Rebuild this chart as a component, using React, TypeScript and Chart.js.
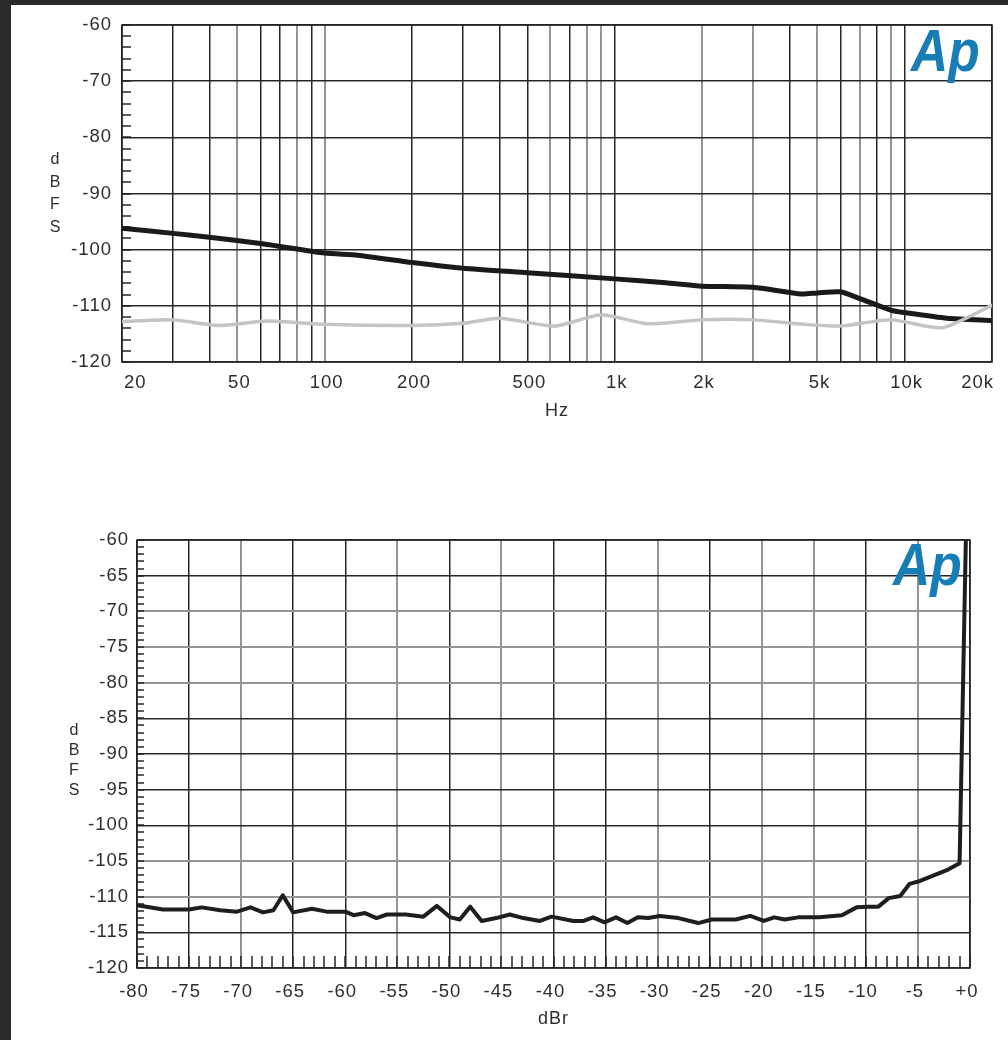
import React, { useEffect, useRef } from 'react';
import { Chart, registerables } from 'chart.js';

Chart.register(...registerables);

// ---------- Top chart: noise level vs frequency ----------
const freqGridHz = [20, 30, 40, 50, 60, 70, 80, 90, 100, 200, 300, 400, 500, 600, 700, 800, 900, 1000, 2000, 3000, 4000, 5000, 6000, 7000, 8000, 9000, 10000, 20000];
const freqLabelHz = [20, 50, 100, 200, 500, 1000, 2000, 5000, 10000, 20000];
const freqLabelText = ['20', '50', '100', '200', '500', '1k', '2k', '5k', '10k', '20k'];
const levelTicksTop = [-60, -70, -80, -90, -100, -110, -120];

const blackFreq = [20, 30, 40, 60, 100, 130, 200, 300, 500, 1000, 1500, 2000, 3000, 4400, 5000, 6000, 7000, 9000, 10000, 14000, 20000];
const blackLevel = [-96.2, -97.1, -97.8, -98.9, -100.6, -101.0, -102.3, -103.3, -104.1, -105.2, -105.9, -106.5, -106.7, -107.9, -107.7, -107.5, -108.7, -110.8, -111.2, -112.2, -112.6];

const greyFreq = [20, 30, 43, 63, 100, 200, 300, 400, 620, 900, 1300, 2000, 3000, 4500, 6000, 9000, 13500, 20000];
const greyLevel = [-112.8, -112.5, -113.5, -112.7, -113.3, -113.5, -113.1, -112.2, -113.6, -111.6, -113.2, -112.5, -112.5, -113.3, -113.6, -112.5, -113.9, -109.9];

// ---------- Bottom chart: output level vs input level ----------
const dbrTicks = [-80, -75, -70, -65, -60, -55, -50, -45, -40, -35, -30, -25, -20, -15, -10, -5, 0];
const dbrTickText = ['-80', '-75', '-70', '-65', '-60', '-55', '-50', '-45', '-40', '-35', '-30', '-25', '-20', '-15', '-10', '-5', '+0'];
const levelTicksBottom = [-60, -65, -70, -75, -80, -85, -90, -95, -100, -105, -110, -115, -120];

const sweepDbr = [-80, -77.5, -75, -73.8, -72, -70.4, -69.1, -67.9, -66.9, -66.0, -65, -63.2, -61.8, -60, -59.2, -58.1, -57, -56, -54.2, -52.5, -51.2, -49.9, -49, -48, -46.9, -45.5, -44.2, -42.9, -41.3, -40.2, -38.1, -37.1, -36.2, -35.1, -34.0, -32.9, -31.9, -30.9, -29.8, -28, -26.1, -24.8, -22.5, -21.1, -19.8, -18.8, -17.8, -16.5, -14.5, -12.3, -10.9, -9.8, -8.8, -7.8, -6.7, -5.8, -4.8, -3.3, -2.1, -1.0, -0.4];
const sweepDbfs = [-111.2, -111.8, -111.8, -111.5, -111.9, -112.1, -111.5, -112.2, -111.9, -109.8, -112.2, -111.7, -112.1, -112.1, -112.6, -112.3, -113.0, -112.5, -112.5, -112.8, -111.3, -112.9, -113.2, -111.4, -113.4, -113.0, -112.5, -113.0, -113.4, -112.8, -113.4, -113.4, -112.9, -113.6, -112.9, -113.7, -112.9, -113.0, -112.7, -113.0, -113.7, -113.2, -113.2, -112.7, -113.4, -112.9, -113.2, -112.9, -112.9, -112.6, -111.5, -111.4, -111.4, -110.2, -109.9, -108.2, -107.8, -106.9, -106.2, -105.3, -60];

// ---------- styling ----------
const FONT = '"Liberation Sans", Arial, Helvetica, sans-serif';
const INK = '#262626';
const SOFT = '#949494';
const TEXT = '#2e2e2e';
const LOGO = '#177db4';

const softTopX = [50, 80, 100, 600, 800, 900, 2000, 3000, 5000, 7000, 9000];
const softBottomX = [-70, -55, -45, -30, -20, -15, -5];
const softBottomY = [-70, -75, -80, -105, -110];

const gridStyle = (soft: number[]) => ({
  drawTicks: false,
  color: (c: any) => (c.tick && soft.includes(c.tick.value) ? SOFT : INK),
  lineWidth: (c: any) => (c.tick && soft.includes(c.tick.value) ? 2 : 1.5),
});

type DecorOpts = {
  yMinorStep: number;
  yMinorLen: number;
  xMinorStep?: number;
  xMinorLen?: number;
  lettersX: number;
  lettersY: number[];
  logoX: number;
  logoY: number;
};

function decorPlugin(d: DecorOpts) {
  return {
    id: 'apDecor',
    beforeDraw(chart: any) {
      try {
        chart.ctx.letterSpacing = '1px';
      } catch (e) {
        /* ignore */
      }
    },
    beforeDatasetsDraw(chart: any) {
      const { ctx, chartArea: a, scales } = chart;
      ctx.save();
      ctx.strokeStyle = INK;
      ctx.lineWidth = 1.5;
      const ys = scales.y;
      for (let v = ys.min; v <= ys.max + 1e-6; v += d.yMinorStep) {
        const y = Math.round(ys.getPixelForValue(v));
        ctx.beginPath();
        ctx.moveTo(a.left, y);
        ctx.lineTo(a.left + d.yMinorLen, y);
        ctx.stroke();
      }
      if (d.xMinorStep) {
        const xs = scales.x;
        for (let v = xs.min; v <= xs.max + 1e-6; v += d.xMinorStep) {
          const x = Math.round(xs.getPixelForValue(v));
          ctx.beginPath();
          ctx.moveTo(x, a.bottom);
          ctx.lineTo(x, a.bottom - (d.xMinorLen || 10));
          ctx.stroke();
        }
      }
      ctx.lineWidth = 1.5;
      ctx.strokeRect(a.left, a.top, a.width, a.height);
      ctx.restore();
    },
    afterDraw(chart: any) {
      const { ctx } = chart;
      ctx.save();
      try {
        ctx.letterSpacing = '0px';
      } catch (e) {
        /* ignore */
      }
      ctx.fillStyle = TEXT;
      ctx.font = `16px ${FONT}`;
      ctx.textAlign = 'center';
      ctx.textBaseline = 'middle';
      ['d', 'B', 'F', 'S'].forEach((ch, i) => ctx.fillText(ch, d.lettersX, d.lettersY[i]));
      ctx.translate(d.logoX, d.logoY);
      ctx.scale(0.86, 1);
      ctx.fillStyle = LOGO;
      ctx.font = `italic bold 60px ${FONT}`;
      ctx.textAlign = 'left';
      ctx.textBaseline = 'alphabetic';
      ctx.fillText('Ap', 0, 0);
      ctx.restore();
    },
  };
}

const tickFont = { family: FONT, size: 18.5 };

function topConfig(): any {
  return {
    type: 'line',
    data: {
      datasets: [
        {
          data: greyFreq.map((f, i) => ({ x: f, y: greyLevel[i] })),
          borderColor: '#c4c4c4',
          borderWidth: 3.5,
          pointRadius: 0,
          tension: 0.2,
          borderJoinStyle: 'round',
          borderCapStyle: 'round',
        },
        {
          data: blackFreq.map((f, i) => ({ x: f, y: blackLevel[i] })),
          borderColor: '#1a1a1a',
          borderWidth: 5,
          pointRadius: 0,
          tension: 0.2,
          borderJoinStyle: 'round',
          borderCapStyle: 'round',
        },
      ],
    },
    options: {
      animation: false,
      responsive: false,
      maintainAspectRatio: false,
      layout: { padding: { left: 0, top: 20, right: 16, bottom: 23 } },
      plugins: { legend: { display: false }, tooltip: { enabled: false } },
      scales: {
        x: {
          type: 'logarithmic',
          min: 20,
          max: 20000,
          afterBuildTicks: (s: any) => {
            s.ticks = freqGridHz.map((v) => ({ value: v }));
          },
          afterFit: (s: any) => {
            s.height = 60;
            s.paddingLeft = 0;
            s.paddingRight = 0;
          },
          ticks: {
            autoSkip: false,
            maxRotation: 0,
            minRotation: 0,
            padding: 10,
            align: 'inner',
            labelOffset: 2,
            color: TEXT,
            font: tickFont,
            callback: (v: any) => {
              const i = freqLabelHz.indexOf(Number(v));
              return i >= 0 ? freqLabelText[i] : '';
            },
          },
          grid: gridStyle(softTopX),
          border: { display: false },
          title: { display: true, text: 'Hz', color: TEXT, font: { family: FONT, size: 18 }, padding: 0 },
        },
        y: {
          type: 'linear',
          min: -120,
          max: -60,
          afterBuildTicks: (s: any) => {
            s.ticks = levelTicksTop.map((v) => ({ value: v }));
          },
          afterFit: (s: any) => {
            s.width = 111;
            s.paddingTop = 0;
            s.paddingBottom = 0;
          },
          ticks: { autoSkip: false, padding: 10, color: TEXT, font: tickFont },
          grid: gridStyle([]),
          border: { display: false },
        },
      },
    },
    plugins: [
      decorPlugin({
        yMinorStep: 2,
        yMinorLen: 9,
        lettersX: 44,
        lettersY: [155, 177.5, 200, 223],
        logoX: 900,
        logoY: 66,
      }),
    ],
  };
}

function bottomConfig(): any {
  return {
    type: 'line',
    data: {
      datasets: [
        {
          data: sweepDbr.map((v, i) => ({ x: v, y: sweepDbfs[i] })),
          borderColor: '#1e1e1e',
          borderWidth: 4,
          pointRadius: 0,
          tension: 0,
          borderJoinStyle: 'round',
          borderCapStyle: 'round',
        },
      ],
    },
    options: {
      animation: false,
      responsive: false,
      maintainAspectRatio: false,
      layout: { padding: { left: 0, top: 80, right: 38, bottom: 10 } },
      plugins: { legend: { display: false }, tooltip: { enabled: false } },
      scales: {
        x: {
          type: 'linear',
          min: -80,
          max: 0,
          afterBuildTicks: (s: any) => {
            s.ticks = dbrTicks.map((v) => ({ value: v }));
          },
          afterFit: (s: any) => {
            s.height = 62;
            s.paddingLeft = 0;
            s.paddingRight = 0;
          },
          ticks: {
            autoSkip: false,
            maxRotation: 0,
            minRotation: 0,
            padding: 13,
            labelOffset: -3,
            color: TEXT,
            font: tickFont,
            callback: (v: any) => {
              const i = dbrTicks.indexOf(Number(v));
              return i >= 0 ? dbrTickText[i] : '';
            },
          },
          grid: gridStyle(softBottomX),
          border: { display: false },
          title: { display: true, text: 'dBr', color: TEXT, font: { family: FONT, size: 18 }, padding: 0 },
        },
        y: {
          type: 'linear',
          min: -120,
          max: -60,
          afterBuildTicks: (s: any) => {
            s.ticks = levelTicksBottom.map((v) => ({ value: v }));
          },
          afterFit: (s: any) => {
            s.width = 126;
            s.paddingTop = 0;
            s.paddingBottom = 0;
          },
          ticks: { autoSkip: false, padding: 8, color: TEXT, font: tickFont },
          grid: gridStyle(softBottomY),
          border: { display: false },
        },
      },
    },
    plugins: [
      decorPlugin({
        yMinorStep: 1,
        yMinorLen: 7,
        xMinorStep: 1,
        xMinorLen: 12,
        lettersX: 63,
        lettersY: [271, 291, 311, 331],
        logoX: 882,
        logoY: 125,
      }),
    ],
  };
}

function ChartCanvas(props: { make: () => any; left: number; top: number; width: number; height: number }) {
  const ref = useRef<HTMLCanvasElement | null>(null);
  useEffect(() => {
    if (!ref.current) return;
    const chart = new Chart(ref.current, props.make());
    return () => chart.destroy();
  }, []);
  return (
    <canvas
      ref={ref}
      width={props.width}
      height={props.height}
      style={{ position: 'absolute', left: props.left, top: props.top, width: props.width, height: props.height, display: 'block' }}
    />
  );
}

export default function App() {
  return (
    <div style={{ position: 'fixed', left: 0, top: 0, width: 1008, height: 1040, background: '#2b2b2b', overflow: 'hidden' }}>
      <div style={{ position: 'absolute', left: 11, top: 5, width: 997, height: 1035, background: '#ffffff' }}>
        <ChartCanvas make={topConfig} left={0} top={0} width={997} height={440} />
        <ChartCanvas make={bottomConfig} left={0} top={455} width={997} height={580} />
      </div>
    </div>
  );
}
